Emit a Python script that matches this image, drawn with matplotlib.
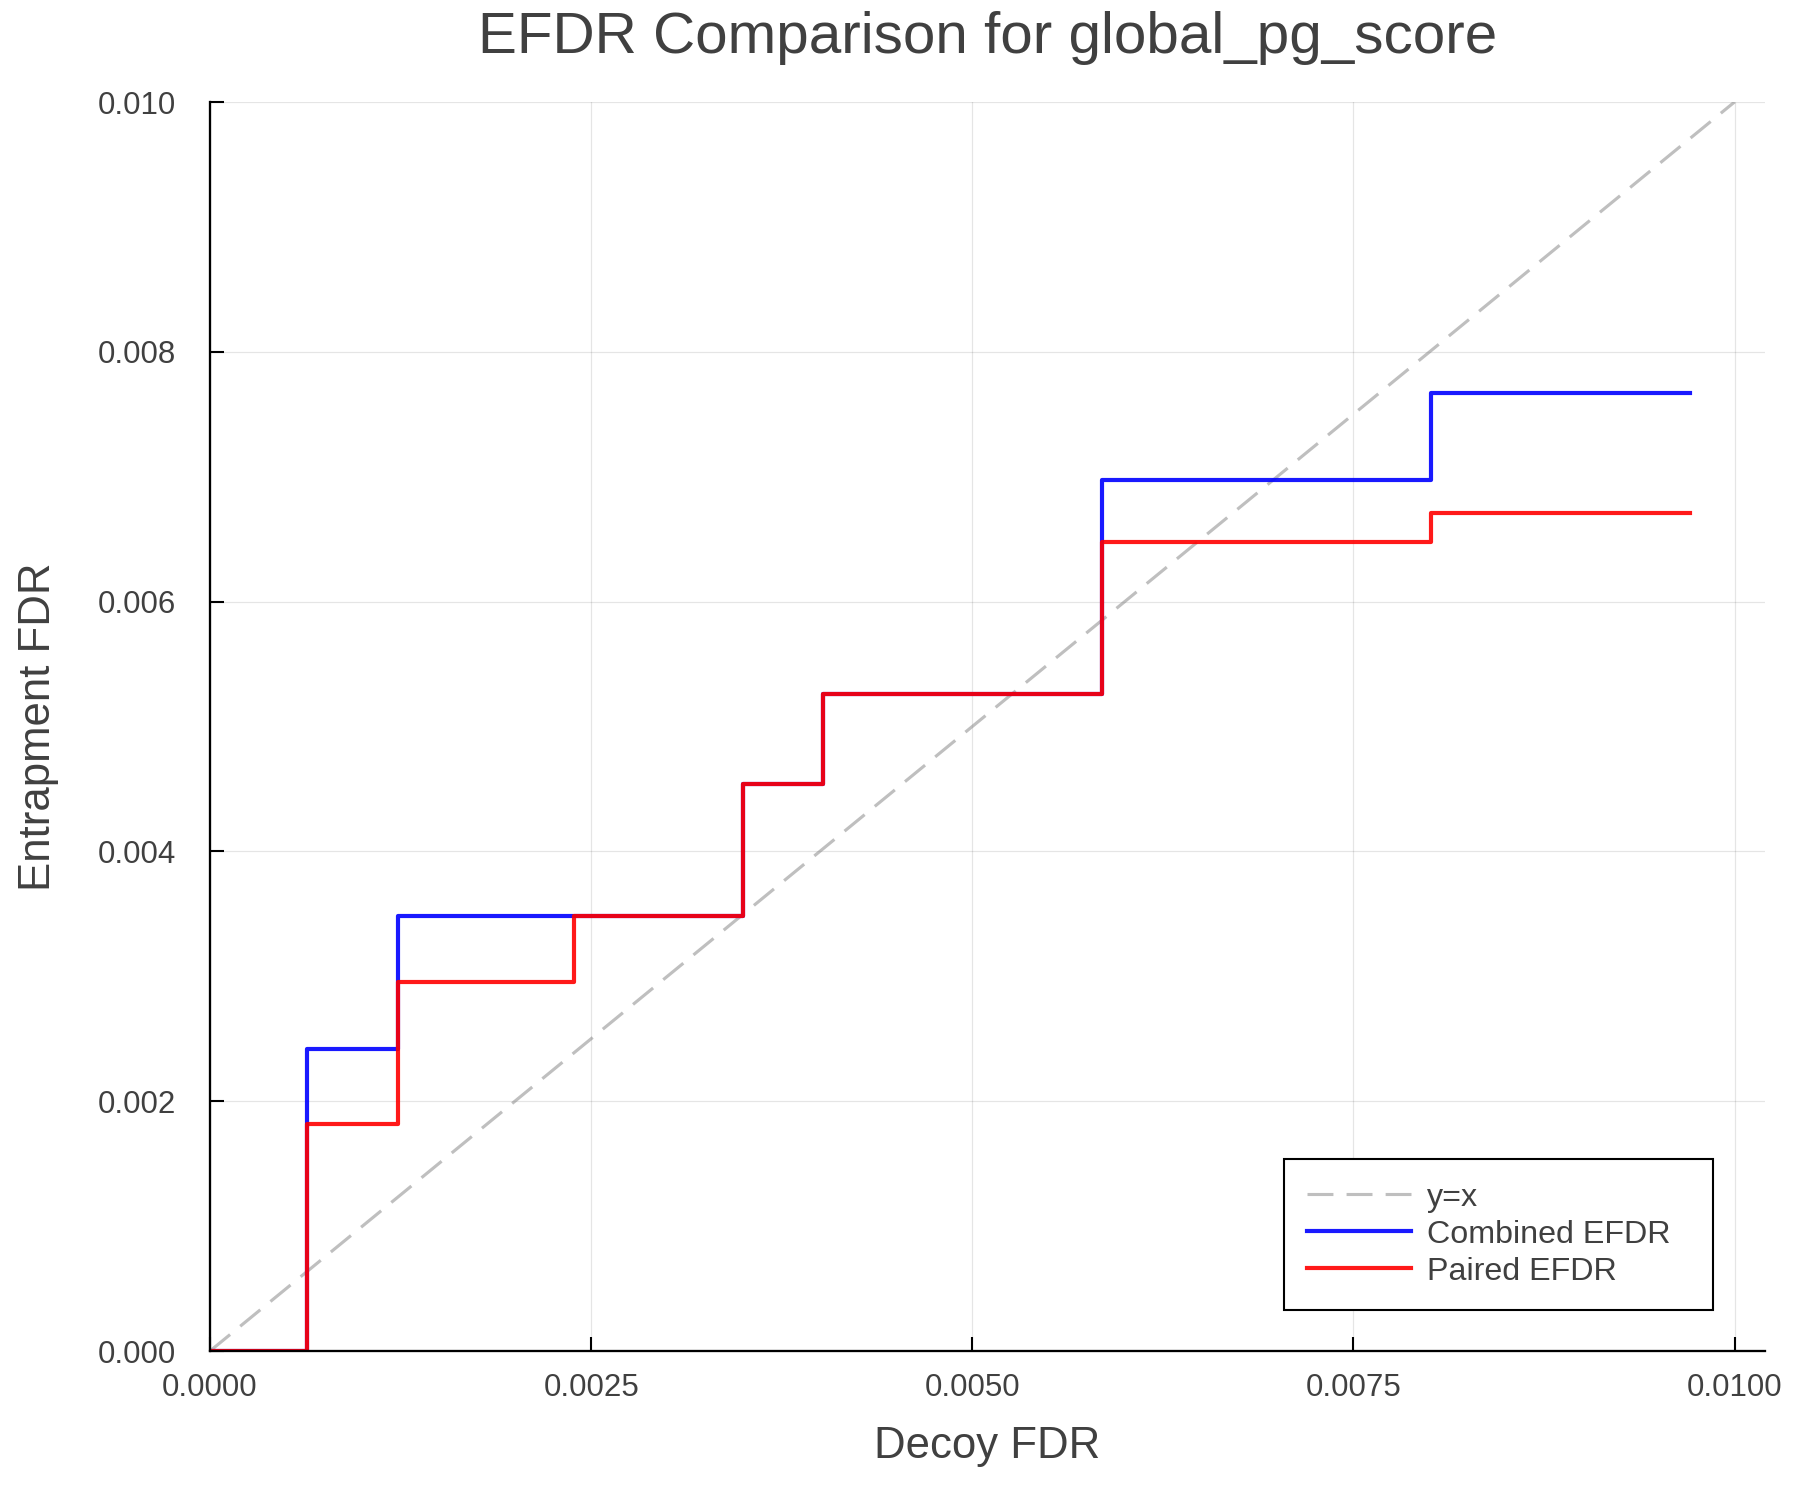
import numpy as np
from matplotlib import pyplot as plt

# valores
decoy_fdr_comb = [0.0, 0.000634, 0.001231, 0.003493, 0.004018, 0.005849, 0.008009, 0.009711]
efdr_comb = [0.0, 0.002418, 0.003485, 0.004537, 0.005258, 0.006974, 0.007670, 0.007670]

decoy_fdr_pair = [0.0, 0.000634, 0.001231, 0.002387, 0.003493, 0.004018, 0.005849, 0.008009, 0.009711]
efdr_pair = [0.0, 0.001815, 0.002952, 0.003485, 0.004537, 0.005258, 0.006477, 0.006709, 0.006709]

diag = [0.0, 0.01]

xticks = [0.0, 0.0025, 0.005, 0.0075, 0.01]
xtick_labels = ["0.0000", "0.0025", "0.0050", "0.0075", "0.0100"]
yticks = [0.0, 0.002, 0.004, 0.006, 0.008, 0.01]
ytick_labels = ["0.000", "0.002", "0.004", "0.006", "0.008", "0.010"]

txt = "#404040"
plt.rcParams['font.family'] = ['Liberation Sans', 'DejaVu Sans']

fig = plt.figure(figsize=(12, 10), dpi=150)
ax = fig.add_axes([0.11667, 0.09933, 0.86389, 0.83267])

# linea y=x
ax.plot(diag, diag, color="#808080", alpha=0.5, lw=1.5, dashes=(8.3, 4.2), label="y=x")
ax.plot(decoy_fdr_comb, efdr_comb, drawstyle="steps-post", color="blue", alpha=0.9, lw=2.0,
        label="Combined EFDR")
ax.plot(decoy_fdr_pair, efdr_pair, drawstyle="steps-post", color="red", alpha=0.9, lw=2.0,
        label="Paired EFDR")

ax.set_xlim(0, 0.0102)
ax.set_ylim(0, 0.01)
ax.set_xticks(xticks)
ax.set_xticklabels(xtick_labels)
ax.set_yticks(yticks)
ax.set_yticklabels(ytick_labels)

ax.grid(True, color="black", alpha=0.1, lw=0.6)
ax.set_axisbelow(True)
for s in ["top", "right"]:
    ax.spines[s].set_visible(False)
for s in ["left", "bottom"]:
    ax.spines[s].set_linewidth(1.1)
    ax.spines[s].set_color("black")

ax.tick_params(axis="both", direction="in", length=6.7, width=1.0, colors="black",
               labelcolor=txt, labelsize=15)
ax.tick_params(axis="x", pad=10.6)
ax.tick_params(axis="y", pad=16.5)

ax.set_title("EFDR Comparison for global_pg_score", fontsize=28, color=txt, pad=0, y=1.0392)
ax.set_xlabel("Decoy FDR", fontsize=21, color=txt)
ax.xaxis.set_label_coords(0.5, -0.0857)
ax.xaxis.label.set_va("baseline")
ax.set_ylabel("Entrapment FDR", fontsize=21, color=txt)
ax.yaxis.set_label_coords(-0.1029, 0.5)
ax.yaxis.label.set_va("baseline")

leg = ax.legend(loc="lower left", bbox_to_anchor=(0.6907, 0.0328, 0.2759, 0.1209),
                mode="expand", borderaxespad=0, fontsize=15.5, handlelength=3.2,
                handletextpad=0.5, labelspacing=0.22, borderpad=0.72, fancybox=False,
                framealpha=1, edgecolor="black", labelcolor=txt)
leg.get_frame().set_linewidth(1.0)

fig.savefig("out.png", dpi=150, facecolor="white")
